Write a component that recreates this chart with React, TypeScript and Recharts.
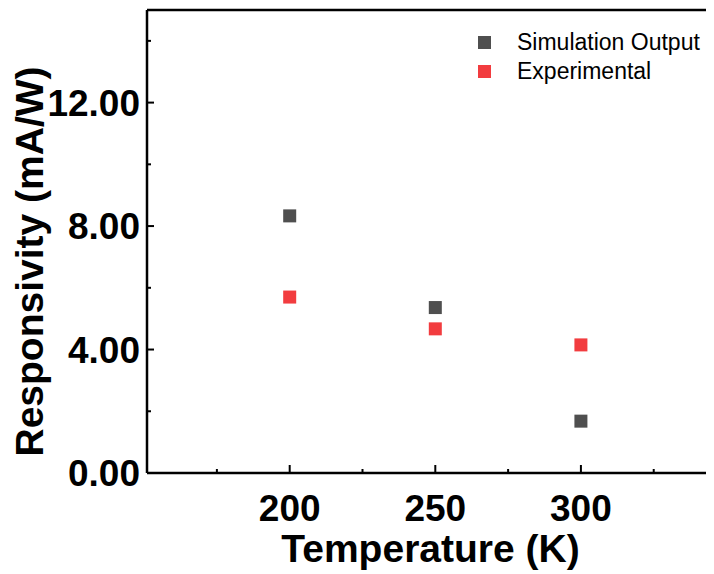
import {
  ScatterChart,
  Scatter,
  XAxis,
  YAxis,
  ReferenceLine,
  Legend,
} from "recharts";

const temperatures = [200, 250, 300];
const simulationOutput = [8.33, 5.36, 1.68];
const experimental = [5.7, 4.67, 4.15];

const xTicks = [175, 200, 225, 250, 275, 300, 325];
const xMajor = [200, 250, 300];
const yTicks = [0, 2, 4, 6, 8, 10, 12, 14];
const yMajor = [0, 4, 8, 12];

const simColor = "#4f4f4f";
const expColor = "#f23c3f";
const font = "'Liberation Sans', Arial, sans-serif";

const simData = temperatures.map((t, i) => ({ t, r: simulationOutput[i] }));
const expData = temperatures.map((t, i) => ({ t, r: experimental[i] }));

const SquareDot = (color: string) => (props: any) => (
  <rect
    x={props.cx - 6.5}
    y={props.cy - 6.5}
    width={13}
    height={13}
    fill={color}
  />
);

const XTick = (props: any) => {
  const { x, y, payload } = props;
  const major = xMajor.includes(payload.value);
  return (
    <g>
      <line x1={x} y1={y} x2={x} y2={y - (major ? 8 : 4)} stroke="#000" strokeWidth={2} />
      {major ? (
        <text
          x={x}
          y={y + 48}
          textAnchor="middle"
          fontFamily={font}
          fontWeight="bold"
          fontSize={37}
          fill="#000"
        >
          {payload.value}
        </text>
      ) : null}
    </g>
  );
};

const YTick = (props: any) => {
  const { x, y, payload } = props;
  const major = yMajor.includes(payload.value);
  return (
    <g>
      <line x1={x} y1={y} x2={x + (major ? 7 : 4)} y2={y} stroke="#000" strokeWidth={2} />
      {major ? (
        <text
          x={x - 7}
          y={y + 13}
          textAnchor="end"
          fontFamily={font}
          fontWeight="bold"
          fontSize={37}
          fill="#000"
        >
          {payload.value.toFixed(2)}
        </text>
      ) : null}
    </g>
  );
};

const legendItems = [
  { name: "Simulation Output", color: simColor },
  { name: "Experimental", color: expColor },
];

const LegendBox = () => (
  <div style={{ fontFamily: font, fontSize: 23, color: "#000" }}>
    {legendItems.map((item) => (
      <div
        key={item.name}
        style={{ display: "flex", alignItems: "center", height: 29 }}
      >
        <span
          style={{
            display: "inline-block",
            width: 13,
            height: 13,
            background: item.color,
            marginRight: 26,
          }}
        />
        <span style={{ lineHeight: "29px", whiteSpace: "nowrap" }}>{item.name}</span>
      </div>
    ))}
  </div>
);

const App = () => {
  return (
    <div style={{ width: 706, height: 566, overflow: "hidden" }}>
      <ScatterChart
        width={706}
        height={566}
        margin={{ top: 2, right: 0, left: 0, bottom: 0 }}
      >
        <XAxis
          type="number"
          dataKey="t"
          domain={[151, 345.7]}
          ticks={xTicks}
          allowDataOverflow
          height={101}
          tickSize={0}
          tickMargin={0}
          tickLine={false}
          axisLine={{ stroke: "#000", strokeWidth: 2.5 }}
          tick={<XTick />}
          interval={0}
          label={{
            value: "Temperature (K)",
            position: "insideBottom",
            offset: 12,
            fontFamily: font,
            fontWeight: "bold",
            fontSize: 39,
            fill: "#000",
          }}
        />
        <YAxis
          type="number"
          dataKey="r"
          domain={[0, 15]}
          ticks={yTicks}
          allowDataOverflow
          width={139}
          tickSize={0}
          tickMargin={0}
          tickLine={false}
          axisLine={{ stroke: "#000", strokeWidth: 2.5 }}
          tick={<YTick />}
          interval={0}
          label={{
            content: (p: any) => {
              const vb = p.viewBox;
              const cx = vb.x + 21;
              const cy = vb.y + vb.height / 2 + 20;
              return (
                <text
                  x={cx}
                  y={cy}
                  transform={`rotate(-90 ${cx} ${cy})`}
                  textAnchor="middle"
                  dominantBaseline="central"
                  fontFamily={font}
                  fontWeight="bold"
                  fontSize={39}
                  fill="#000"
                >
                  Responsivity (mA/W)
                </text>
              );
            },
          }}
        />
        <ReferenceLine y={15} stroke="#000" strokeWidth={2.5} />
        <Legend
          content={<LegendBox />}
          wrapperStyle={{
            top: 20,
            left: 470,
            width: 240,
            height: 0,
            overflow: "visible",
          }}
        />
        <Scatter
          name="Simulation Output"
          data={simData}
          fill={simColor}
          shape={SquareDot(simColor)}
          isAnimationActive={false}
        />
        <Scatter
          name="Experimental"
          data={expData}
          fill={expColor}
          shape={SquareDot(expColor)}
          isAnimationActive={false}
        />
      </ScatterChart>
    </div>
  );
};

export default App;
